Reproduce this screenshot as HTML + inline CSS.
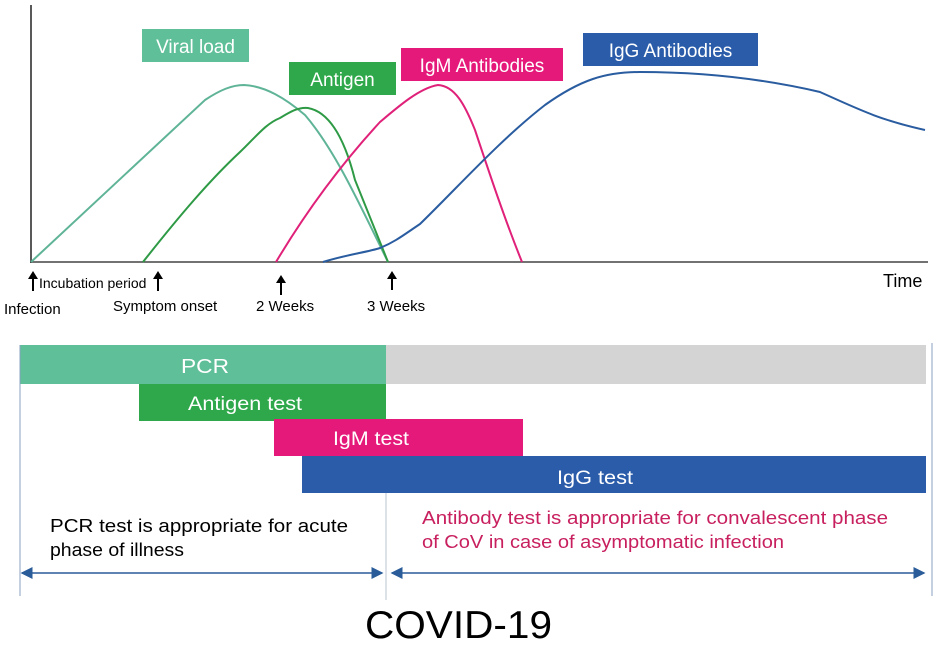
<!DOCTYPE html>
<html><head><style>
body{margin:0;background:#fff;}
svg text{font-family:"Liberation Sans",sans-serif;}
</style></head><body>
<svg width="950" height="645" viewBox="0 0 950 645" xmlns="http://www.w3.org/2000/svg">
<defs>
<marker id="ah" markerWidth="8" markerHeight="8" refX="7" refY="4" orient="auto-start-reverse"><path d="M0,0 L8,4 L0,8 z" fill="#2a5c9a"/></marker>
</defs>
<line x1="31" y1="5" x2="31" y2="263" stroke="#222" stroke-width="1.5"/>
<line x1="30" y1="262" x2="928" y2="262" stroke="#444" stroke-width="1.5"/>
<path d="M31,262 L205,100 C220,90 232,85 244,85 C265,86 285,98 305,115 C335,150 360,205 388,262" fill="none" stroke="#5fb497" stroke-width="2"/>
<path d="M143,262 C180,215 210,180 240,152 C255,138 265,124 280,118 C290,112 298,107 308,108 C330,112 345,140 355,180 L388,262" fill="none" stroke="#2e9a45" stroke-width="2"/>
<path d="M276,262 C310,205 345,160 380,122 C400,105 420,88 438,85 C455,86 465,105 475,130 C490,175 505,220 522,262" fill="none" stroke="#e0217a" stroke-width="2"/>
<path d="M323,262 C345,255 368,252 380,248 C395,242 405,234 420,224 C460,185 500,140 545,105 C580,80 605,72 640,72 C700,72 760,78 820,92 C860,110 880,120 925,130" fill="none" stroke="#2a5ca0" stroke-width="2"/>
<rect x="142" y="29" width="107" height="33" fill="#5fbf99"/>
<text x="195.5" y="53" font-size="19" fill="#fff" text-anchor="middle">Viral load</text>
<rect x="289" y="62" width="107" height="33" fill="#2ea84a"/>
<text x="342.5" y="86" font-size="19" fill="#fff" text-anchor="middle">Antigen</text>
<rect x="401" y="48" width="162" height="33" fill="#e5197a"/>
<text x="482" y="72" font-size="19" fill="#fff" text-anchor="middle">IgM Antibodies</text>
<rect x="583" y="33" width="175" height="33" fill="#2a5caa"/>
<text x="670.5" y="57" font-size="19" fill="#fff" text-anchor="middle">IgG Antibodies</text>
<g stroke="#000" stroke-width="2" fill="#000">
<line x1="33" y1="291" x2="33" y2="276"/><path d="M28,279 L33,271 L38,279 z" stroke="none"/>
<line x1="158" y1="291" x2="158" y2="276"/><path d="M153,279 L158,271 L163,279 z" stroke="none"/>
<line x1="281" y1="295" x2="281" y2="280"/><path d="M276,283 L281,275 L286,283 z" stroke="none"/>
<line x1="392" y1="290" x2="392" y2="276"/><path d="M387,279 L392,271 L397,279 z" stroke="none"/>
</g>
<text x="39" y="288" font-size="14">Incubation period</text>
<text x="4" y="314" font-size="15">Infection</text>
<text x="113" y="311" font-size="15">Symptom onset</text>
<text x="256" y="311" font-size="15">2 Weeks</text>
<text x="367" y="311" font-size="15">3 Weeks</text>
<text x="883" y="287" font-size="18">Time</text>
<rect x="20" y="345" width="366" height="39" fill="#5fbf99"/>
<rect x="386" y="345" width="540" height="39" fill="#d4d4d4"/>
<text x="181" y="373" font-size="20" fill="#fff" textLength="48" lengthAdjust="spacingAndGlyphs">PCR</text>
<rect x="139" y="384" width="247" height="37" fill="#2ea84a"/>
<text x="188" y="410" font-size="19" fill="#fff" textLength="114" lengthAdjust="spacingAndGlyphs">Antigen test</text>
<rect x="274" y="419" width="249" height="37" fill="#e5197a"/>
<text x="333" y="445" font-size="19" fill="#fff" textLength="76" lengthAdjust="spacingAndGlyphs">IgM test</text>
<rect x="302" y="456" width="624" height="37" fill="#2a5caa"/>
<text x="557" y="484" font-size="19" fill="#fff" textLength="76" lengthAdjust="spacingAndGlyphs">IgG test</text>
<line x1="20" y1="345" x2="20" y2="596" stroke="#8aa2c0" stroke-width="1"/>
<line x1="386" y1="493" x2="386" y2="600" stroke="#b8c4d0" stroke-width="1"/>
<line x1="932" y1="343" x2="932" y2="596" stroke="#8aa2c0" stroke-width="1"/>
<text x="50" y="532" font-size="18" textLength="298" lengthAdjust="spacingAndGlyphs">PCR test is appropriate for acute</text>
<text x="50" y="556" font-size="18" textLength="134" lengthAdjust="spacingAndGlyphs">phase of illness</text>
<text x="422" y="524" font-size="18" fill="#c8205f" textLength="466" lengthAdjust="spacingAndGlyphs">Antibody test is appropriate for convalescent phase</text>
<text x="422" y="548" font-size="18" fill="#c8205f" textLength="362" lengthAdjust="spacingAndGlyphs">of CoV in case of asymptomatic infection</text>
<line x1="22" y1="573" x2="382" y2="573" stroke="#2a5c9a" stroke-width="1.5" marker-start="url(#ah)" marker-end="url(#ah)"/>
<line x1="392" y1="573" x2="924" y2="573" stroke="#2a5c9a" stroke-width="1.5" marker-start="url(#ah)" marker-end="url(#ah)"/>
<text x="365" y="638" font-size="39" textLength="187" lengthAdjust="spacingAndGlyphs">COVID-19</text>
</svg>
</body></html>
